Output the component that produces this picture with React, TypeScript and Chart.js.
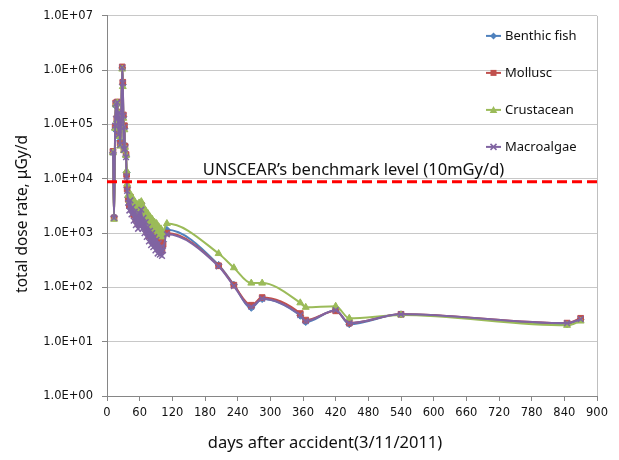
import React, { useEffect, useRef } from 'react';
import { Chart, registerables } from 'chart.js';

Chart.register(...registerables);

const FONT = '"Noto Sans", "DejaVu Sans", sans-serif';
const TICK_FONT = '"DejaVu Sans", "Noto Sans", sans-serif';

const days = [
  11, 13, 15, 16, 18, 19, 21, 22, 24, 26, 28, 29, 30, 31, 32, 33, 35, 36, 37, 39,
  41, 43, 45, 47, 49, 51, 53, 55, 57, 59, 61, 63, 65, 67, 69, 71, 73, 75, 77, 79,
  81, 83, 85, 87, 89, 91, 93, 95, 97, 99, 101, 103, 110, 205, 233, 265, 285, 355,
  365, 420, 445, 540, 845, 870,
];

const benthicFish = [
  30000, 2000, 80000, 220000, 140000, 240000, 75000, 150000, 50000, 110000, 1100000,
  550000, 140000, 38000, 85000, 42000, 26000, 13000, 7000, 4500,
  3400, 4800, 3000, 3800, 2400, 3200, 2000, 2800, 1700, 3100, 1900, 3500, 1800, 2600,
  1500, 2200, 1200, 1900, 1000, 1600,
  900, 1400, 800, 1200, 750, 1100, 650, 950, 600, 800, 560, 700, 1150, 260, 112, 42,
  61, 30, 23, 38, 21, 32, 21, 26,
];

const mollusc = [
  32000, 1900, 90000, 250000, 130000, 260000, 70000, 170000, 45000, 120000, 1150000,
  600000, 150000, 35000, 95000, 40000, 28000, 12000, 6500, 4200,
  3200, 4600, 2800, 3600, 2200, 3000, 1800, 2600, 1500, 2900, 1700, 3300, 1600, 2400,
  1300, 2000, 1100, 1700, 900, 1500,
  800, 1300, 700, 1100, 650, 1000, 550, 850, 500, 700, 480, 620, 1000, 250, 110, 47,
  65, 33, 25, 37, 22, 32, 22, 27,
];

const crustacean = [
  30000, 1800, 85000, 230000, 120000, 250000, 60000, 160000, 40000, 100000, 1050000,
  500000, 130000, 33000, 80000, 38000, 27000, 14000, 8000, 5000,
  4000, 5200, 3600, 4400, 3000, 3800, 2600, 3400, 2300, 3600, 2500, 3800, 2300, 3000,
  2000, 2600, 1700, 2300, 1500, 2000,
  1300, 1800, 1200, 1600, 1100, 1500, 1000, 1300, 900, 1200, 850, 1000, 1500, 420, 230,
  120, 120, 52, 43, 45, 27, 31, 20, 24,
];

const macroalgae = [
  31000, 1900, 95000, 240000, 125000, 255000, 65000, 165000, 42000, 115000, 1120000,
  580000, 145000, 34000, 90000, 36000, 25000, 11000, 6000, 3600,
  2600, 4000, 2200, 3000, 1700, 2500, 1400, 2100, 1200, 2300, 1300, 2700, 1200, 1900,
  1000, 1600, 850, 1300, 700, 1100,
  600, 1000, 550, 850, 480, 750, 420, 650, 400, 550, 380, 480, 950, 245, 106, 44,
  62, 31, 24, 38, 22, 32, 22, 26,
];

const seriesNames = ['Benthic fish', 'Mollusc', 'Crustacean', 'Macroalgae'];
const seriesColors = ['#4F81BD', '#C0504D', '#9BBB59', '#8064A2'];
const seriesMarkers = ['rectRot', 'rect', 'triangle', 'crossRot'];

const xTickValues = [0, 60, 120, 180, 240, 300, 360, 420, 480, 540, 600, 660, 720, 780, 840, 900];
const xTickLabels = ['0', '60', '120', '180', '240', '300', '360', '420', '480', '540', '600', '660', '720', '780', '840', '900'];
const yTickValues = [1, 10, 100, 1000, 10000, 100000, 1000000, 10000000];
const yTickLabels = ['1.0E+00', '1.0E+01', '1.0E+02', '1.0E+03', '1.0E+04', '1.0E+05', '1.0E+06', '1.0E+07'];

const benchmarkValue = 8800;
const benchmarkRange = [0, 900];
const benchmarkLabel = 'UNSCEAR\u2019s benchmark level (10mGy/d)';
const benchmarkLabelDay = 176;

const xTitle = 'days after accident(3/11/2011)';
const yTitle = 'total dose rate, \u03BCGy/d';

function drawMarker(ctx: CanvasRenderingContext2D, style: string, x: number, y: number, color: string) {
  ctx.save();
  ctx.fillStyle = color;
  ctx.strokeStyle = color;
  ctx.lineWidth = 1.5;
  ctx.beginPath();
  if (style === 'rectRot') {
    ctx.moveTo(x, y - 3.5);
    ctx.lineTo(x + 3.5, y);
    ctx.lineTo(x, y + 3.5);
    ctx.lineTo(x - 3.5, y);
    ctx.closePath();
    ctx.fill();
  } else if (style === 'rect') {
    ctx.rect(x - 3, y - 3, 6, 6);
    ctx.fill();
  } else if (style === 'triangle') {
    ctx.moveTo(x, y - 4);
    ctx.lineTo(x + 3.8, y + 3);
    ctx.lineTo(x - 3.8, y + 3);
    ctx.closePath();
    ctx.fill();
  } else {
    ctx.moveTo(x - 3, y - 3);
    ctx.lineTo(x + 3, y + 3);
    ctx.moveTo(x + 3, y - 3);
    ctx.lineTo(x - 3, y + 3);
    ctx.stroke();
  }
  ctx.restore();
}

const overlayPlugin = {
  id: 'overlay',
  afterDatasetsDraw(chart: any) {
    const { ctx, chartArea, scales } = chart;
    ctx.save();
    ctx.font = `16.5px ${FONT}`;
    ctx.fillStyle = '#111';
    ctx.textAlign = 'left';
    ctx.textBaseline = 'middle';
    const lx = scales.x.getPixelForValue(benchmarkLabelDay);
    const ly = scales.y.getPixelForValue(benchmarkValue) - 12;
    ctx.fillText(benchmarkLabel, lx, ly);

    // x axis title
    ctx.textAlign = 'center';
    ctx.fillText(xTitle, chartArea.left + 218, chartArea.bottom + 47);

    // y axis title
    ctx.save();
    ctx.font = `15.5px ${FONT}`;
    ctx.translate(23, (chartArea.top + chartArea.bottom) / 2 + 8);
    ctx.rotate(-Math.PI / 2);
    ctx.fillText(yTitle, 0, 0);
    ctx.restore();

    ctx.textAlign = 'left';
    ctx.font = `13px ${FONT}`;
    for (let i = 0; i < seriesNames.length; i++) {
      const y = chartArea.top + 20 + i * 37;
      const x0 = chartArea.right - 111;
      ctx.strokeStyle = seriesColors[i];
      ctx.lineWidth = 2;
      ctx.beginPath();
      ctx.moveTo(x0, y);
      ctx.lineTo(x0 + 15, y);
      ctx.stroke();
      drawMarker(ctx, seriesMarkers[i], x0 + 7.5, y, seriesColors[i]);
      ctx.fillStyle = '#111';
      ctx.fillText(seriesNames[i], x0 + 19, y);
    }
    ctx.restore();
  },
};

export default function App() {
  const canvasRef = useRef<HTMLCanvasElement | null>(null);

  useEffect(() => {
    const canvas = canvasRef.current;
    if (!canvas) return;
    const seriesData = [benthicFish, mollusc, crustacean, macroalgae];
    const datasets: any[] = seriesData.map((vals, s) => ({
      label: seriesNames[s],
      data: days.map((d, i) => ({ x: d, y: vals[i] })),
      borderColor: seriesColors[s],
      backgroundColor: seriesColors[s],
      pointBackgroundColor: seriesColors[s],
      pointBorderColor: seriesColors[s],
      pointStyle: seriesMarkers[s],
      pointRadius: s === 0 ? 3.5 : 4,
      pointBorderWidth: s === 3 ? 1.5 : 1,
      borderWidth: 2,
      cubicInterpolationMode: 'monotone',
      fill: false,
      order: 4 - s,
    }));
    datasets.push({
      label: 'benchmark',
      data: benchmarkRange.map((d) => ({ x: d, y: benchmarkValue })),
      borderColor: '#FF0000',
      borderWidth: 3,
      borderDash: [10, 5],
      pointRadius: 0,
      fill: false,
      order: 0,
    });

    const chart = new Chart(canvas, {
      type: 'line',
      data: { datasets },
      plugins: [overlayPlugin],
      options: {
        animation: false,
        responsive: false,
        maintainAspectRatio: false,
        layout: { padding: { left: 0, top: 15, right: 22, bottom: 0 } },
        plugins: {
          legend: { display: false },
          tooltip: { enabled: false },
          title: { display: false },
        },
        scales: {
          x: {
            type: 'linear',
            min: 0,
            max: 900,
            afterBuildTicks: (axis: any) => {
              axis.ticks = xTickValues.map((v) => ({ value: v }));
            },
            afterFit: (s: any) => {
              s.height = 64;
            },
            ticks: {
              callback: (_v: any, i: number) => xTickLabels[i],
              font: { size: 11.5, family: TICK_FONT },
              color: '#111',
              padding: 5,
              maxRotation: 0,
              autoSkip: false,
            },
            grid: {
              color: (c: any) => (c.tick && c.tick.value === 900 ? '#BFBFBF' : 'rgba(0,0,0,0)'),
              tickColor: '#868686',
              tickLength: 5,
              lineWidth: 1,
            },
            border: { color: '#868686', width: 1 },
            title: { display: false },
          },
          y: {
            type: 'logarithmic',
            min: 1,
            max: 10000000,
            afterBuildTicks: (axis: any) => {
              axis.ticks = yTickValues.map((v) => ({ value: v }));
            },
            afterFit: (s: any) => {
              s.width = 107;
            },
            ticks: {
              callback: (_v: any, i: number) => yTickLabels[i],
              font: { size: 11.5, family: TICK_FONT },
              color: '#111',
              padding: 9,
              autoSkip: false,
            },
            grid: {
              color: '#C8C8C8',
              tickColor: '#868686',
              tickLength: 5,
              lineWidth: 1,
            },
            border: { color: '#868686', width: 1 },
            title: { display: false },
          },
        },
      } as any,
    });
    return () => chart.destroy();
  }, []);

  return (
    <div style={{ position: 'fixed', left: 0, top: 0, width: 619, height: 460, background: '#fff' }}>
      <canvas ref={canvasRef} width={619} height={460} style={{ display: 'block' }} />
    </div>
  );
}
